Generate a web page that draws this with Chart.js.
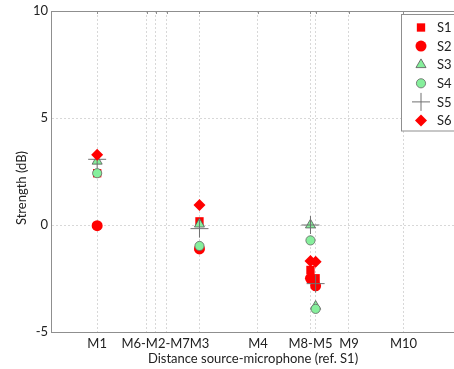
<!DOCTYPE html>
<html>
<head>
<meta charset="utf-8">
<script src="https://cdn.jsdelivr.net/npm/chart.js@4.4.0/dist/chart.umd.min.js"></script>
<style>
  html, body { margin: 0; padding: 0; background: #fff; overflow: hidden; }
  /* le cadre du graphe depasse a droite, comme dans la figure d'origine */
  #wrap { position: relative; width: 465px; height: 369px; }
</style>
</head>
<body>
<div id="wrap"><canvas id="chart"></canvas></div>
<script>
// --- DONNEES ---
// positions des micros sur l'axe distance (ref. S1)
const micNames  = ['M1', 'M6', 'M2', 'M7', 'M3', 'M4', 'M8', 'M5', 'M9', 'M10'];
const micDist   = [4.57, 9.47, 10.36, 11.47, 14.7, 20.49, 25.69, 26.2, 29.5, 34.9];
const micLabels = ['M1', '', 'M6-M2-M7', '', 'M3', 'M4', 'M8-M5', '', 'M9', 'M10'];
const yTicks = [-5, 0, 5, 10];

// micros mesures pour chaque source
const measMics = ['M1', 'M3', 'M8', 'M5'];
const s1 = [2.42, 0.17, -2.10, -2.49];
const s2 = [-0.03, -1.12, -2.49, -2.84];
const s3 = [2.98, 0.04, 0.00, -3.80];
const s4 = [2.42, -0.98, -0.72, -3.92];
const s5 = [3.07, -0.17, 0.00, -2.74];
const s6 = [3.28, 0.94, -1.68, -1.72];
const seriesNames = ['S1', 'S2', 'S3', 'S4', 'S5', 'S6'];

const RED = '#ff0000';
const GREEN = '#86ef9c';
const AXIS = '#8f8f8f';
const FONT = 'Lato';

function toPoints(vals) {
    return vals.map((v, i) => ({ x: micDist[micNames.indexOf(measMics[i])], y: v }));
}

const styles = [
    { pointStyle: 'rect',    radius: 5.9, bg: RED,   border: RED,       bw: 0 },
    { pointStyle: 'circle',  radius: 5.5, bg: RED,   border: RED,       bw: 0 },
    { pointStyle: 'triangle',radius: 5.8, bg: GREEN, border: '#555555', bw: 0.8 },
    { pointStyle: 'circle',  radius: 4.6, bg: GREEN, border: '#666666', bw: 0.8 },
    { pointStyle: 'cross',   radius: 9,   bg: 'rgba(0,0,0,0)', border: '#707070', bw: 1 },
    { pointStyle: 'rectRot', radius: 6,   bg: RED,   border: RED,       bw: 0 }
];
const allSeries = [s1, s2, s3, s4, s5, s6];

const datasets = allSeries.map((vals, i) => ({
    label: seriesNames[i],
    data: toPoints(vals),
    showLine: false,
    pointStyle: styles[i].pointStyle,
    pointRadius: styles[i].radius,
    pointHoverRadius: styles[i].radius,
    pointBackgroundColor: styles[i].bg,
    pointBorderColor: styles[i].border,
    pointBorderWidth: styles[i].bw,
    order: 6 - i
}));

// --- PLUGIN : cadre du haut, titre Y, legende encadree ---
const framePlugin = {
    id: 'frame',
    afterDraw(chart) {
        const ctx = chart.ctx;
        const area = chart.chartArea;
        const xs = chart.scales.x;
        ctx.save();
        // bord du haut + petites graduations
        ctx.strokeStyle = AXIS;
        ctx.lineWidth = 1;
        ctx.beginPath();
        ctx.moveTo(area.left, area.top + 0.5);
        ctx.lineTo(area.right, area.top + 0.5);
        micDist.forEach(d => {
            const px = Math.round(xs.getPixelForValue(d)) + 0.5;
            ctx.moveTo(px, area.top);
            ctx.lineTo(px, area.top + 3);
        });
        ctx.stroke();

        // titre axe Y
        ctx.fillStyle = '#222';
        ctx.font = '13px ' + FONT;
        ctx.textAlign = 'center';
        ctx.textBaseline = 'middle';
        ctx.translate(22, 188);
        ctx.rotate(-Math.PI / 2);
        ctx.fillText('Strength (dB)', 0, 0);
        ctx.restore();

        // legende
        ctx.save();
        const lx = 401.5, ly = 14.5;
        ctx.fillStyle = '#fff';
        ctx.fillRect(lx, ly, 80, 116.5);
        ctx.strokeStyle = AXIS;
        ctx.strokeRect(lx, ly, 80, 116.5);
        chart.data.datasets.forEach((ds, i) => {
            const y = 27.5 + i * 18.6;
            ctx.fillStyle = ds.pointBackgroundColor;
            ctx.strokeStyle = ds.pointBorderColor;
            ctx.lineWidth = ds.pointBorderWidth;
            Chart.helpers.drawPoint(ctx, {
                pointStyle: ds.pointStyle,
                radius: ds.pointRadius,
                rotation: 0,
                borderWidth: ds.pointBorderWidth
            }, 421, y);
            ctx.fillStyle = '#222';
            ctx.font = '13px ' + FONT;
            ctx.textAlign = 'left';
            ctx.textBaseline = 'middle';
            ctx.fillText(ds.label, 437, y + 0.5);
        });
        ctx.restore();
    }
};

new Chart(document.getElementById('chart'), {
    type: 'scatter',
    data: { datasets: datasets },
    plugins: [framePlugin],
    options: {
        responsive: true,
        maintainAspectRatio: false,
        animation: false,
        layout: { padding: { top: 11, right: 0, bottom: 0, left: 0 } },
        plugins: { legend: { display: false }, tooltip: { enabled: false } },
        scales: {
            x: {
                type: 'linear',
                min: 0, max: 40,
                afterBuildTicks: scale => { scale.ticks = micDist.map(v => ({ value: v })); },
                afterFit: scale => { scale.height = 37; },
                ticks: {
                    autoSkip: false, maxRotation: 0, padding: 4,
                    color: '#222', font: { family: FONT, size: 13 },
                    callback: (val, idx) => micLabels[idx]
                },
                grid: { color: '#d8d8d8', drawTicks: false },
                border: { color: AXIS, dash: [2, 2] },
                title: {
                    display: true, text: 'Distance source-microphone (ref. S1)',
                    color: '#222', font: { family: FONT, size: 13 },
                    padding: { top: 0, bottom: 2 }
                }
            },
            y: {
                min: -5, max: 10,
                afterBuildTicks: scale => { scale.ticks = yTicks.map(v => ({ value: v })); },
                afterFit: scale => { scale.width = 51; },
                ticks: { padding: 3, color: '#222', font: { family: FONT, size: 13 } },
                grid: { color: '#d8d8d8', drawTicks: false },
                border: { color: AXIS, dash: [2, 2] }
            }
        }
    }
});
</script>
</body>
</html>
